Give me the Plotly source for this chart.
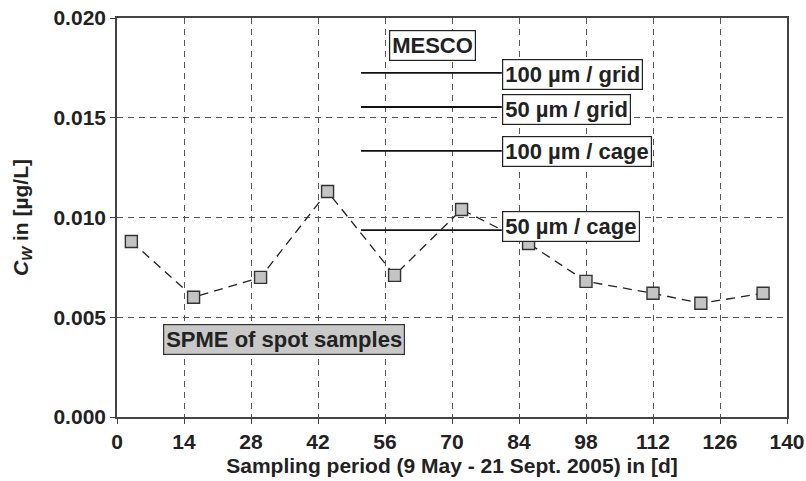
import plotly.graph_objects as go

# Spot samples (SPME)
days = [3, 16, 30, 44, 58, 72, 86, 98, 112, 122, 135]
cw_spot = [0.0088, 0.0060, 0.0070, 0.0113, 0.0071, 0.0104, 0.0087, 0.0068, 0.0062, 0.0057, 0.0062]

# MESCO passive sampler (time-weighted averages over the sampling period)
mesco_labels = ["100 µm / grid", "50 µm / grid", "100 µm / cage", "50 µm / cage"]
mesco_values = [0.01725, 0.01554, 0.01334, 0.00937]
mesco_start = 51
mesco_end = 80.4

x_ticks = [0, 14, 28, 42, 56, 70, 84, 98, 112, 126, 140]
y_ticks = [0.000, 0.005, 0.010, 0.015, 0.020]

FONT = "Liberation Sans, Arial, sans-serif"
TXT = "#222222"

fig = go.Figure()

fig.add_trace(go.Scatter(
    x=days, y=cw_spot, mode="lines+markers",
    line=dict(color="#222222", width=1.3, dash="9px,6px"),
    marker=dict(symbol="square", size=12, color="#c4c4c4",
                line=dict(color="#333333", width=1.4)),
    showlegend=False, hoverinfo="x+y",
))

for lab, v in zip(mesco_labels, mesco_values):
    fig.add_trace(go.Scatter(
        x=[mesco_start, mesco_end], y=[v, v], mode="lines",
        line=dict(color="#111111", width=1.8),
        showlegend=False, hoverinfo="skip",
    ))

yshifts = [-2, -3, -1, 4]
for lab, v, ys in zip(mesco_labels, mesco_values, yshifts):
    fig.add_annotation(
        x=mesco_end, y=v, text=lab, showarrow=False,
        xanchor="left", yanchor="middle", yshift=ys,
        font=dict(family=FONT, size=22, color=TXT, weight="bold"),
        bgcolor="white", bordercolor="#222222", borderwidth=1.2, borderpad=2,
    )

fig.add_annotation(
    x=0.471, xref="paper", y=0.0186, text="MESCO", showarrow=False,
    xanchor="center", yanchor="middle",
    font=dict(family=FONT, size=22, color=TXT, weight="bold"),
    bgcolor="white", bordercolor="#222222", borderwidth=1.2, borderpad=2,
)

fig.add_annotation(
    x=9.6, y=0.00389, text="SPME of spot samples", showarrow=False,
    xanchor="left", yanchor="middle",
    font=dict(family=FONT, size=22, color=TXT, weight="bold"),
    bgcolor="#c8c8c8", bordercolor="#333333", borderwidth=1.2, borderpad=2,
)

axis_common = dict(
    showline=True, linecolor="#444444", linewidth=1.6, mirror=True,
    ticks="outside", ticklen=5, tickwidth=1.3, tickcolor="#444444",
    showgrid=True, gridcolor="#555555", gridwidth=1.2, griddash="6px,5px",
    zeroline=False, automargin=False, ticklabeloverflow="allow",
    tickfont=dict(family=FONT, size=21, color=TXT, weight="bold"),
)

fig.update_xaxes(
    range=[0, 140], tickvals=x_ticks, ticktext=[str(t) for t in x_ticks],
    title=dict(text="Sampling period (9 May - 21 Sept. 2005) in [d]",
               font=dict(family=FONT, size=21, color=TXT, weight="bold"),
               standoff=6),
    **axis_common,
)
fig.update_yaxes(
    range=[0, 0.020], tickvals=y_ticks, tickformat=".3f",
    title=dict(text="<i>C</i><sub><i>W</i></sub> in [µg/L]",
               font=dict(family=FONT, size=21, color=TXT, weight="bold"),
               standoff=19),
    **axis_common,
)

fig.update_layout(
    width=806, height=481,
    margin=dict(l=117, r=19, t=18, b=64),
    plot_bgcolor="white", paper_bgcolor="white",
    showlegend=False,
)

fig.write_html("out.html", config={"displayModeBar": False},
               post_script="document.body.style.margin='0';")
